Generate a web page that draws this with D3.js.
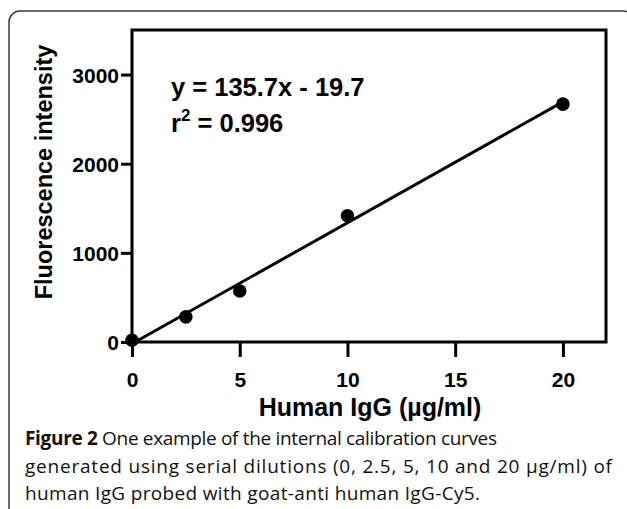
<!DOCTYPE html>
<html>
<head>
<meta charset="utf-8">
<script src="https://cdn.jsdelivr.net/npm/d3@7"></script>
<style>
  body { margin: 0; background: #fff; }
  svg { display: block; }
</style>
</head>
<body>
<div id="container"></div>
<script>
// concentrations (µg/ml) and measured fluorescence
let concentrations = [0, 2.5, 5, 10, 20];
let intensities = [20, 282, 572, 1416, 2669];

// linear fit shown on the plot
let fitSlope = 135.7;
let fitIntercept = -19.7;
let fitRange = [0, 20];

let xTicks = [0, 5, 10, 15, 20];
let yTicks = [0, 1000, 2000, 3000];

let captionLines = [
  ["Figure 2", " One example of the internal calibration curves"],
  ["", "generated using serial dilutions (0, 2.5, 5, 10 and 20 µg/ml) of"],
  ["", "human IgG probed with goat-anti human IgG-Cy5."]
];
let captionWidths = [472, 587, 455];

let width = 627, height = 509;
let svg = d3.select("#container").append("svg")
  .attr("width", width)
  .attr("height", height);

// outer panel border, open past the page edges
svg.append("rect")
  .attr("x", 9).attr("y", 11)
  .attr("width", 625).attr("height", 600)
  .attr("rx", 11)
  .attr("fill", "none")
  .attr("stroke", "#3a3a3a")
  .attr("stroke-width", 1.5);

let plot = { left: 132, right: 606, top: 30, bottom: 342 };

let x = d3.scaleLinear().domain([0, 22]).range([plot.left, plot.right]);
let y = d3.scaleLinear().domain([0, 3500]).range([plot.bottom, plot.top]);

let axisFont = "'Liberation Sans', Arial, sans-serif";

// frame
svg.append("rect")
  .attr("x", plot.left).attr("y", plot.top)
  .attr("width", plot.right - plot.left)
  .attr("height", plot.bottom - plot.top)
  .attr("fill", "none")
  .attr("stroke", "#000")
  .attr("stroke-width", 3);

let xAxis = svg.append("g")
  .attr("transform", `translate(0,${plot.bottom})`)
  .call(d3.axisBottom(x).tickValues(xTicks).tickSize(15).tickPadding(15).tickFormat(d3.format("d")));

let yAxis = svg.append("g")
  .attr("transform", `translate(${plot.left},0)`)
  .call(d3.axisLeft(y).tickValues(yTicks).tickSize(11).tickPadding(2).tickFormat(d3.format("d")));

[xAxis, yAxis].forEach(a => {
  a.select(".domain").remove();
  a.selectAll(".tick line").attr("stroke", "#000").attr("stroke-width", 3);
  a.selectAll(".tick text")
    .attr("fill", "#000")
    .style("font-family", axisFont)
    .style("font-weight", "bold")
    .style("font-size", "21px");
});
yAxis.selectAll(".tick text").attr("dy", "0.36em");
xAxis.selectAll(".tick text").attr("dy", "0.71em");

// fitted line
let fitLine = d3.line().x(d => x(d)).y(d => y(fitSlope * d + fitIntercept));
svg.append("path")
  .datum(fitRange)
  .attr("d", fitLine)
  .attr("fill", "none")
  .attr("stroke", "#000")
  .attr("stroke-width", 3);

// data points
svg.selectAll(".pt")
  .data(concentrations)
  .enter()
  .append("circle")
  .attr("class", "pt")
  .attr("cx", d => x(d))
  .attr("cy", (d, i) => y(intensities[i]))
  .attr("r", 6.8)
  .attr("fill", "#000");

// equation text
svg.append("text")
  .attr("x", 171).attr("y", 96)
  .style("font-family", axisFont)
  .style("font-weight", "bold")
  .style("font-size", "25.5px")
  .text(`y = ${fitSlope}x - ${Math.abs(fitIntercept)}`);

let r2 = svg.append("text")
  .attr("x", 171).attr("y", 132)
  .style("font-family", axisFont)
  .style("font-weight", "bold")
  .style("font-size", "25.5px");
r2.append("tspan").text("r");
r2.append("tspan").attr("dy", -11).style("font-size", "17px").text("2");
r2.append("tspan").attr("dy", 11).text(" = 0.996");

// axis titles
svg.append("text")
  .attr("x", (plot.left + plot.right) / 2 + 1)
  .attr("y", 416)
  .attr("text-anchor", "middle")
  .style("font-family", axisFont)
  .style("font-weight", "bold")
  .style("font-size", "25px")
  .text("Human IgG (µg/ml)");

svg.append("text")
  .attr("transform", `translate(52,172) rotate(-90)`)
  .attr("text-anchor", "middle")
  .style("font-family", axisFont)
  .style("font-weight", "bold")
  .style("font-size", "23.5px")
  .text("Fluorescence intensity");

// caption
let caption = svg.append("g");
captionLines.forEach((line, i) => {
  let t = caption.append("text")
    .attr("x", 25)
    .attr("y", 445 + i * 27.5)
    .attr("textLength", captionWidths[i])
    .attr("lengthAdjust", "spacing")
    .style("font-family", "'Open Sans', sans-serif")
    .style("font-size", "19px")
    .attr("fill", "#111");
  if (line[0]) t.append("tspan").style("font-weight", "bold").text(line[0]);
  t.append("tspan").text(line[1]);
});
</script>
</body>
</html>
